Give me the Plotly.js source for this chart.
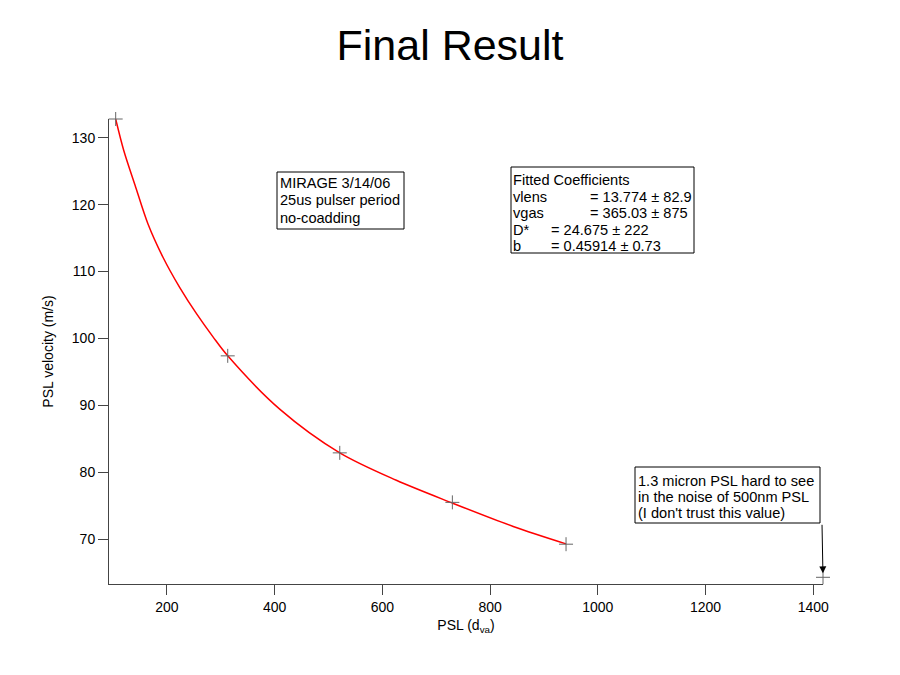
<!DOCTYPE html>
<html>
<head>
<meta charset="utf-8">
<script src="https://cdn.plot.ly/plotly-3.0.1.min.js"></script>
<style>html,body{margin:0;padding:0;background:#fff;}#chart{width:900px;height:675px;}</style>
</head>
<body>
<div id="chart"></div>
<script>
// Measured data points (PSL d_va, velocity m/s)
const pslDva = [105, 313, 521, 730, 941, 1418];
const pslVelocity = [132.8, 97.4, 82.9, 75.5, 69.25, 64.3];
// Red fit curve
const fitDva = [105, 120, 141, 165, 193, 224, 255, 286, 313, 410, 521, 626, 730, 843, 941];
const fitVelocity = [132.8, 128.1, 122.9, 117.1, 112.1, 107.6, 103.7, 100.2, 97.4, 89.4, 82.9, 78.8, 75.4, 71.9, 69.3];
// Axis ticks
const xTicks = [200, 400, 600, 800, 1000, 1200, 1400];
const yTicks = [70, 80, 90, 100, 110, 120, 130];
// Text
const titleText = "Final Result";
const xTitle = "PSL (d<sub>va</sub>)";
const yTitle = "PSL velocity (m/s)";
const noteLines = ["MIRAGE 3/14/06", "25us pulser period", "no-coadding"];
const coefNames = ["vlens", "vgas", "D*", "b"];
const coefValues = ["= 13.774 ± 82.9", "= 365.03 ± 875", "= 24.675 ± 222", "= 0.45914 ± 0.73"];
const warnLines = ["1.3 micron PSL hard to see", "in the noise of 500nm PSL", "(I don't trust this value)"];

const FONT = "Liberation Sans, Arial, sans-serif";
const L = 109, R = 823, T = 119, B = 584, W = 900, H = 675;
const px = v => (v - L) / (R - L);
const py = v => (B - v) / (B - T);

function txt(x, y, s, size) {
  return {xref: 'paper', yref: 'paper', x: px(x), y: py(y), xanchor: 'left', yanchor: 'middle',
    text: s, showarrow: false, borderpad: 0, font: {family: FONT, size: size || 14.6, color: '#000'}};
}
function box(x0, y0, x1, y1) {
  return {type: 'rect', xref: 'paper', yref: 'paper', x0: px(x0), x1: px(x1), y0: py(y0), y1: py(y1),
    line: {color: '#000', width: 1}, fillcolor: 'rgba(0,0,0,0)'};
}

const annotations = [];
noteLines.forEach((s, i) => annotations.push(txt(279, 183 + i * 17.3, s)));
annotations.push(txt(512, 180, "Fitted Coefficients"));
const eqX = [589, 589, 550, 550];
coefNames.forEach((s, i) => {
  annotations.push(txt(512, 196.5 + i * 16.6, s));
  annotations.push(txt(eqX[i], 196.5 + i * 16.6, coefValues[i]));
});
warnLines.forEach((s, i) => annotations.push(txt(637, 481 + i * 16.2, s)));
// arrow to the last point
annotations.push({x: pslDva[5], y: pslVelocity[5], xref: 'x', yref: 'y', text: '', showarrow: true,
  arrowhead: 2, arrowsize: 1.4, arrowwidth: 1, arrowcolor: '#000', ax: -1, ay: -54, standoff: 4});

const traces = [
  {x: fitDva, y: fitVelocity, mode: 'lines', line: {color: '#ff0000', width: 1.5, shape: 'spline', smoothing: 0.9}, hoverinfo: 'skip'},
  {x: pslDva, y: pslVelocity, mode: 'markers', cliponaxis: false,
   marker: {symbol: 'cross-thin-open', size: 10, line: {color: '#666', width: 1}, color: '#666'}}
];

const axisCommon = {showgrid: false, zeroline: false, showline: true, linecolor: '#444', linewidth: 1,
  ticks: 'outside', ticklen: 10, tickcolor: '#444', tickwidth: 1,
  tickfont: {family: FONT, size: 14, color: '#000'}};

const layout = {
  width: W, height: H,
  margin: {l: L, r: W - R, t: T, b: H - B},
  paper_bgcolor: '#fff', plot_bgcolor: '#fff',
  showlegend: false,
  title: {text: titleText, font: {family: FONT, size: 43, color: '#000'}, x: 0.5, xanchor: 'center', xref: 'container',
    y: 1 - 45 / H, yanchor: 'middle'},
  xaxis: Object.assign({}, axisCommon, {range: [92.6, 1418], tickvals: xTicks, ticktext: xTicks.map(String),
    title: {text: xTitle, font: {family: FONT, size: 14, color: '#000'}, standoff: 6}}),
  yaxis: Object.assign({}, axisCommon, {range: [63.3, 132.8], tickvals: yTicks, ticktext: yTicks.map(String),
    title: {text: yTitle, font: {family: FONT, size: 14, color: '#000'}, standoff: 14}}),
  shapes: [box(277, 172, 404, 229), box(511, 167, 694, 253), box(635, 467, 820, 523)],
  annotations: annotations
};

Plotly.newPlot('chart', traces, layout, {displayModeBar: false, staticPlot: true});
</script>
</body>
</html>
